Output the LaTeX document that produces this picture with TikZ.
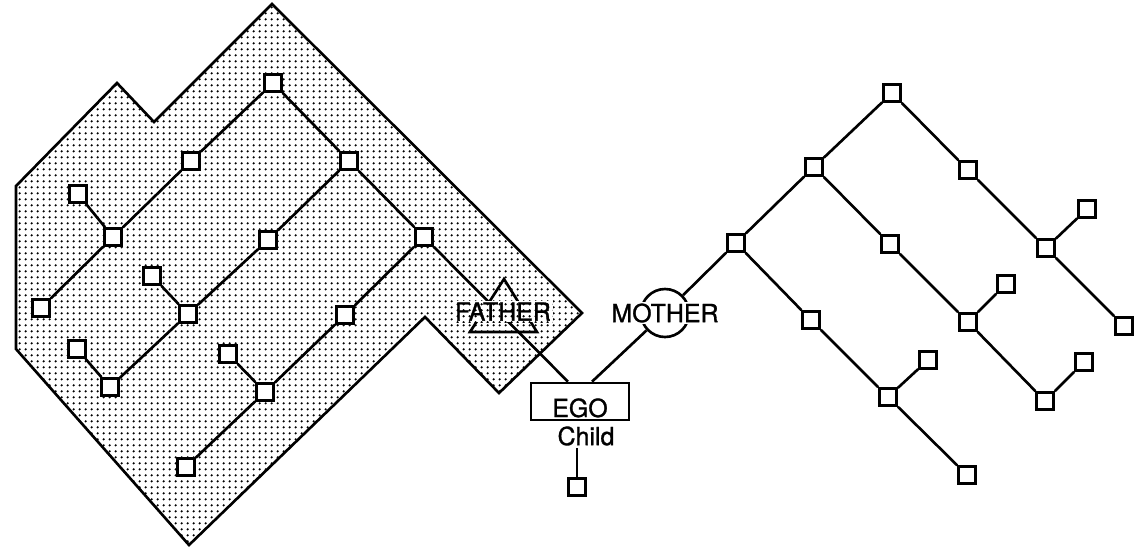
\documentclass[tikz,border=0pt]{standalone}
\usepackage{fontspec}
\setmainfont{TeX Gyre Heros}
\newfontfamily\kinfont[FakeBold=1.2]{TeX Gyre Heros}
\usetikzlibrary{patterns, calc}

\pgfdeclarepatternformonly{griddots}{\pgfpointorigin}{\pgfqpoint{3.2pt}{3.2pt}}{\pgfqpoint{3.2pt}{3.2pt}}{%
  \pgfpathcircle{\pgfqpoint{1.6pt}{1.6pt}}{0.75pt}\pgfusepath{fill}}

\tikzset{
  kin/.style={draw, fill=white, minimum size=0.34cm, inner sep=0pt, line width=1.5pt},
  tie/.style={line width=1.5pt},
  lbl/.style={font=\kinfont\fontsize{14.2}{16}\selectfont, inner sep=1pt}
}

\begin{document}
\begin{tikzpicture}[x=0.02cm, y=-0.02cm, line join=miter]
\useasboundingbox (0,0) rectangle (1143,549);

% shaded block (father's side)
\draw[line width=1.5pt, pattern=griddots] (272,4) -- (582,313) -- (499,393) -- (425,317) -- (189,545) -- (16,349) -- (16,186) -- (117,83) -- (154,122) -- cycle;

\node[kin] (p1) at (273,83) {};
\node[kin] (p2) at (191,161) {};
\node[kin] (p3) at (349,161) {};
\node[kin] (p4) at (78,194) {};
\node[kin] (p5) at (113,237) {};
\node[kin] (p6) at (268,240) {};
\node[kin] (p7) at (424,237) {};
\node[kin] (p8) at (152,276) {};
\node[kin] (p9) at (188,314) {};
\node[kin] (p10) at (41,308) {};
\node[kin] (p11) at (345,315) {};
\node[kin] (p12) at (77,349) {};
\node[kin] (p13) at (110,387) {};
\node[kin] (p14) at (228,354) {};
\node[kin] (p15) at (265,392) {};
\node[kin] (p16) at (186,467) {};

\draw[tie] (p1) -- (p2) -- (p5) -- (p10);
\draw[tie] (p4) -- (p5);
\draw[tie] (p1) -- (p3) -- (p7);
\draw[tie] (p3) -- (p6) -- (p9) -- (p13);
\draw[tie] (p8) -- (p9);
\draw[tie] (p12) -- (p13);
\draw[tie] (p7) -- (p11) -- (p15) -- (p16);
\draw[tie] (p14) -- (p15);

% ego
\node[draw, fill=white, line width=1.5pt, lbl, minimum width=1.96cm, text height=0.62cm, text depth=0pt, inner ysep=0.06cm] (ego) at (580,401.5) {EGO};
\node[lbl] (child) at (586,436) {Child};
\node[kin] (c1) at (577,487) {};
\draw[tie] (c1) -- (c1 |- child.south);

\draw[tie] (p7) -- ([xshift=-0.24cm]ego.north);
\draw[tie] (504,279) -- (537,332) -- (470,332) -- cycle;
\node[lbl, preaction={fill=white}, pattern=griddots] (father) at (503,311.5) {FATHER};

% mother's side
\node[draw, circle, line width=1.5pt, minimum size=0.96cm, inner sep=0pt] (mother) at (665,313) {};
\node[lbl, fill=white] (mothertxt) at (mother) {MOTHER};
\draw[tie] (mother) -- ([xshift=0.24cm]ego.north);

\node[kin] (m1) at (736,243) {};
\node[kin] (m2) at (814,167) {};
\node[kin] (m3) at (892,93) {};
\node[kin] (m4) at (968,170) {};
\node[kin] (m5) at (1046,248) {};
\node[kin] (m6) at (1087,209) {};
\node[kin] (m7) at (1124,326) {};
\node[kin] (m8) at (890,244) {};
\node[kin] (m9) at (968,322) {};
\node[kin] (m10) at (1006,284) {};
\node[kin] (m11) at (1045,401) {};
\node[kin] (m12) at (1084,362) {};
\node[kin] (m13) at (811,320) {};
\node[kin] (m14) at (888,397) {};
\node[kin] (m15) at (928,360) {};
\node[kin] (m16) at (967,475) {};

\draw[tie] (mother) -- (m1) -- (m2) -- (m3) -- (m4) -- (m5) -- (m7);
\draw[tie] (m5) -- (m6);
\draw[tie] (m2) -- (m8) -- (m9) -- (m11);
\draw[tie] (m9) -- (m10);
\draw[tie] (m11) -- (m12);
\draw[tie] (m1) -- (m13) -- (m14) -- (m16);
\draw[tie] (m14) -- (m15);
\end{tikzpicture}
\end{document}
